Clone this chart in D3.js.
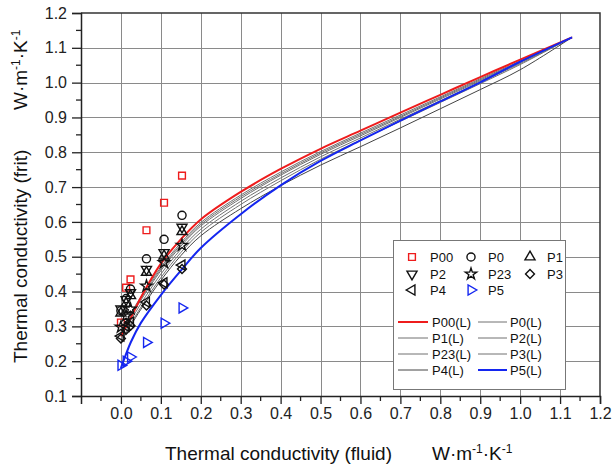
<!DOCTYPE html>
<html>
<head>
<meta charset="utf-8">
<script src="https://cdn.jsdelivr.net/npm/d3@7"></script>
<style>
  html, body { margin: 0; padding: 0; background: #fff; }
  svg { display: block; font-family: "Liberation Sans", Arial, sans-serif; }
</style>
</head>
<body>
<svg id="chart" width="613" height="464"></svg>
<script>
// Measured thermal conductivity of frits vs. fluid conductivity (W·m-1·K-1)
const fluidK = [0, 0.013, 0.024, 0.064, 0.108, 0.153];

const P00 = [0.311, 0.411, 0.435, 0.576, 0.655, 0.733];
const P0  = [0.345, 0.380, 0.407, 0.494, 0.550, 0.619];
const P1  = [0.338, 0.366, 0.388, 0.455, 0.502, 0.572];
const P2  = [0.350, 0.377, 0.397, 0.464, 0.512, 0.585];
const P23 = [0.298, 0.330, 0.350, 0.416, 0.483, 0.533];
const P3  = [0.265, 0.290, 0.302, 0.360, 0.420, 0.465];
const P4  = [0.272, 0.300, 0.312, 0.370, 0.425, 0.476];
const P5  = [0.188, 0.200, 0.212, 0.254, 0.309, 0.353];

// Model curves
const modelK = [0, 0.025, 0.05, 0.1, 0.15, 0.2, 0.3, 0.4, 0.5, 0.6, 0.7, 0.8, 0.9, 1.0, 1.13];
const P00L = [0.272, 0.325, 0.383, 0.480, 0.550, 0.607, 0.686, 0.752, 0.810, 0.862, 0.914, 0.965, 1.016, 1.066, 1.13];
const P0L  = [0.290, 0.338, 0.385, 0.470, 0.540, 0.598, 0.677, 0.743, 0.802, 0.855, 0.907, 0.959, 1.011, 1.062, 1.13];
const P1L  = [0.285, 0.333, 0.380, 0.465, 0.535, 0.593, 0.672, 0.738, 0.798, 0.851, 0.903, 0.956, 1.008, 1.060, 1.13];
const P2L  = [0.280, 0.328, 0.375, 0.460, 0.530, 0.588, 0.667, 0.734, 0.794, 0.847, 0.900, 0.953, 1.005, 1.058, 1.13];
const P23L = [0.270, 0.318, 0.365, 0.450, 0.521, 0.579, 0.659, 0.726, 0.787, 0.841, 0.895, 0.948, 1.001, 1.055, 1.13];
const P3L  = [0.260, 0.308, 0.355, 0.440, 0.512, 0.570, 0.650, 0.718, 0.780, 0.835, 0.889, 0.943, 0.997, 1.052, 1.13];
const P4L  = [0.255, 0.303, 0.349, 0.432, 0.503, 0.560, 0.638, 0.704, 0.763, 0.816, 0.870, 0.925, 0.980, 1.037, 1.13];
const P5L  = [0.180, 0.255, 0.310, 0.390, 0.460, 0.525, 0.622, 0.705, 0.775, 0.834, 0.891, 0.946, 1.001, 1.060, 1.13];

const xTicks = [0.0, 0.1, 0.2, 0.3, 0.4, 0.5, 0.6, 0.7, 0.8, 0.9, 1.0, 1.1, 1.2];
const yTicks = [0.1, 0.2, 0.3, 0.4, 0.5, 0.6, 0.7, 0.8, 0.9, 1.0, 1.1, 1.2];

const RED = "#ee1c1c", BLUE = "#1426f0", BLACK = "#111", GRAY = "#707070";

const pointSeries = [
  { name: "P00", values: P00, shape: "square",   color: RED },
  { name: "P0",  values: P0,  shape: "circle",   color: BLACK },
  { name: "P1",  values: P1,  shape: "triUp",    color: BLACK },
  { name: "P2",  values: P2,  shape: "triDown",  color: BLACK },
  { name: "P23", values: P23, shape: "star",     color: BLACK },
  { name: "P3",  values: P3,  shape: "diamond",  color: BLACK },
  { name: "P4",  values: P4,  shape: "triLeft",  color: BLACK },
  { name: "P5",  values: P5,  shape: "triRight", color: BLUE }
];
const lineSeries = [
  { name: "P00(L)", values: P00L, color: RED,  width: 2 },
  { name: "P0(L)",  values: P0L,  color: GRAY, width: 1 },
  { name: "P1(L)",  values: P1L,  color: GRAY, width: 1 },
  { name: "P2(L)",  values: P2L,  color: GRAY, width: 1 },
  { name: "P23(L)", values: P23L, color: GRAY, width: 1 },
  { name: "P3(L)",  values: P3L,  color: GRAY, width: 1 },
  { name: "P4(L)",  values: P4L,  color: "#444", width: 1 },
  { name: "P5(L)",  values: P5L,  color: BLUE, width: 2 }
];

const svg = d3.select("#chart");
const margin = { left: 81, right: 13, top: 13, bottom: 68 };
const W = 613, H = 464;

const x = d3.scaleLinear().domain([-0.1, 1.2]).range([margin.left, W - margin.right]);
const y = d3.scaleLinear().domain([0.1, 1.2]).range([H - margin.bottom, margin.top]);

// grid
const grid = svg.append("g").attr("stroke", "#8a8a8a").attr("stroke-width", 1);
grid.selectAll("line.gx").data(xTicks.filter(d => d < 1.2)).enter().append("line")
  .attr("x1", d => Math.round(x(d)) + 0.5).attr("x2", d => Math.round(x(d)) + 0.5)
  .attr("y1", y(0.1)).attr("y2", y(1.2));
grid.selectAll("line.gy").data(yTicks.filter(d => d > 0.1 && d < 1.2)).enter().append("line")
  .attr("y1", d => Math.round(y(d)) + 0.5).attr("y2", d => Math.round(y(d)) + 0.5)
  .attr("x1", x(-0.1)).attr("x2", x(1.2));

// frame (top and right)
svg.append("path")
  .attr("d", `M${x(-0.1)},${y(1.2)}H${x(1.2)}V${y(0.1)}`)
  .attr("fill", "none").attr("stroke", "#333").attr("stroke-width", 1.5);

// axes
const fmt = d3.format(".1f");
const xAxis = d3.axisBottom(x).tickValues(xTicks).tickFormat(fmt).tickSize(8).tickPadding(4);
const yAxis = d3.axisLeft(y).tickValues(yTicks).tickFormat(fmt).tickSize(9).tickPadding(5);
const gx = svg.append("g").attr("transform", `translate(0,${y(0.1)})`).call(xAxis);
const gy = svg.append("g").attr("transform", `translate(${x(-0.1)},0)`).call(yAxis);
[gx, gy].forEach(g => {
  g.select(".domain").attr("stroke", "#222").attr("stroke-width", 1.5);
  g.selectAll(".tick line").attr("stroke", "#222").attr("stroke-width", 1.3);
  g.selectAll(".tick text").attr("fill", "#222").style("font-size", "16px")
    .style("font-family", "'Liberation Sans', Arial, sans-serif");
});
// minor ticks
const xMinor = d3.range(-0.05, 1.2, 0.1);
const yMinor = d3.range(0.15, 1.2, 0.1);
svg.append("g").selectAll("line").data(xMinor).enter().append("line")
  .attr("x1", d => x(d)).attr("x2", d => x(d))
  .attr("y1", y(0.1)).attr("y2", y(0.1) + 5)
  .attr("stroke", "#222").attr("stroke-width", 1.3);
svg.append("g").selectAll("line").data(yMinor).enter().append("line")
  .attr("y1", d => y(d)).attr("y2", d => y(d))
  .attr("x1", x(-0.1)).attr("x2", x(-0.1) - 5)
  .attr("stroke", "#222").attr("stroke-width", 1.3);

// axis titles
svg.append("text").attr("x", 165).attr("y", 460)
  .style("font-size", "19px").attr("fill", "#111")
  .text("Thermal conductivity (fluid)");
const xUnit = svg.append("text").attr("x", 432).attr("y", 460)
  .style("font-size", "19px").attr("fill", "#111");
xUnit.append("tspan").text("W·m");
xUnit.append("tspan").attr("dy", -7).style("font-size", "12px").text("-1");
xUnit.append("tspan").attr("dy", 7).text("·K");
xUnit.append("tspan").attr("dy", -7).style("font-size", "12px").text("-1");

svg.append("text").attr("transform", "translate(27,363) rotate(-90)")
  .style("font-size", "19px").attr("fill", "#111")
  .text("Thermal conductivity (frit)");
const yUnit = svg.append("text").attr("transform", "translate(27,110) rotate(-90)")
  .style("font-size", "19px").attr("fill", "#111");
yUnit.append("tspan").text("W·m");
yUnit.append("tspan").attr("dy", -7).style("font-size", "12px").text("-1");
yUnit.append("tspan").attr("dy", 7).text("·K");
yUnit.append("tspan").attr("dy", -7).style("font-size", "12px").text("-1");

// clip to plot area
svg.append("clipPath").attr("id", "plot").append("rect")
  .attr("x", x(-0.1)).attr("y", y(1.2)).attr("width", x(1.2) - x(-0.1)).attr("height", y(0.1) - y(1.2));

// symbol builder
function symbolPath(shape) {
  switch (shape) {
    case "square":   return { d: d3.symbol(d3.symbolSquare, 46)(), r: 0 };
    case "circle":   return { d: d3.symbol(d3.symbolCircle, 52)(), r: 0 };
    case "triUp":    return { d: d3.symbol(d3.symbolTriangle, 44)(), r: 0 };
    case "triDown":  return { d: d3.symbol(d3.symbolTriangle, 44)(), r: 180 };
    case "triLeft":  return { d: d3.symbol(d3.symbolTriangle, 44)(), r: -90 };
    case "triRight": return { d: d3.symbol(d3.symbolTriangle, 44)(), r: 90 };
    case "star":     return { d: d3.symbol(d3.symbolStar, 40)(), r: 0 };
    case "diamond":  return { d: d3.symbol(d3.symbolSquare, 40)(), r: 45 };
  }
}

// model lines
const line = d3.line().x(d => x(d[0])).y(d => y(d[1])).curve(d3.curveCatmullRom.alpha(0.5));
const linesG = svg.append("g").attr("clip-path", "url(#plot)");
// gray ones first, then red and blue on top
const order = [1, 2, 3, 4, 5, 6, 0, 7];
order.forEach(i => {
  const s = lineSeries[i];
  linesG.append("path")
    .datum(modelK.map((k, j) => [k, s.values[j]]))
    .attr("d", line).attr("fill", "none")
    .attr("stroke", s.color).attr("stroke-width", s.width);
});

// measured points
const ptsG = svg.append("g");
pointSeries.forEach(s => {
  const sym = symbolPath(s.shape);
  ptsG.append("g").selectAll("path").data(fluidK.map((k, j) => [k, s.values[j]])).enter().append("path")
    .attr("d", sym.d)
    .attr("transform", d => `translate(${x(d[0])},${y(d[1])}) rotate(${sym.r})`)
    .attr("fill", "none").attr("stroke", s.color).attr("stroke-width", 1.4);
});

// legend
const lg = svg.append("g");
lg.append("rect").attr("x", 393.5).attr("y", 240.5).attr("width", 172).attr("height", 149)
  .attr("fill", "#fff").attr("stroke", "#777").attr("stroke-width", 1);
const colSym = [412, 471, 530], colTxt = [430, 488, 547], rowY = [257, 274, 290];
pointSeries.forEach((s, i) => {
  const c = i % 3, r = Math.floor(i / 3);
  const sym = symbolPath(s.shape);
  lg.append("path").attr("d", sym.d)
    .attr("transform", `translate(${colSym[c]},${rowY[r]}) rotate(${sym.r})`)
    .attr("fill", "none").attr("stroke", s.color).attr("stroke-width", 1.4);
  lg.append("text").attr("x", colTxt[c]).attr("y", rowY[r] + 5)
    .style("font-size", "13px").attr("fill", "#111").text(s.name);
});
const lineRowY = [322, 338, 354, 370];
const lineCol = [[398, 428, 432], [478, 507, 510]];
lineSeries.forEach((s, i) => {
  const c = i % 2, r = Math.floor(i / 2);
  lg.append("line").attr("x1", lineCol[c][0]).attr("x2", lineCol[c][1])
    .attr("y1", lineRowY[r]).attr("y2", lineRowY[r])
    .attr("stroke", s.color).attr("stroke-width", s.width);
  lg.append("text").attr("x", lineCol[c][2]).attr("y", lineRowY[r] + 5)
    .style("font-size", "13px").attr("fill", "#111").text(s.name);
});
</script>
</body>
</html>
